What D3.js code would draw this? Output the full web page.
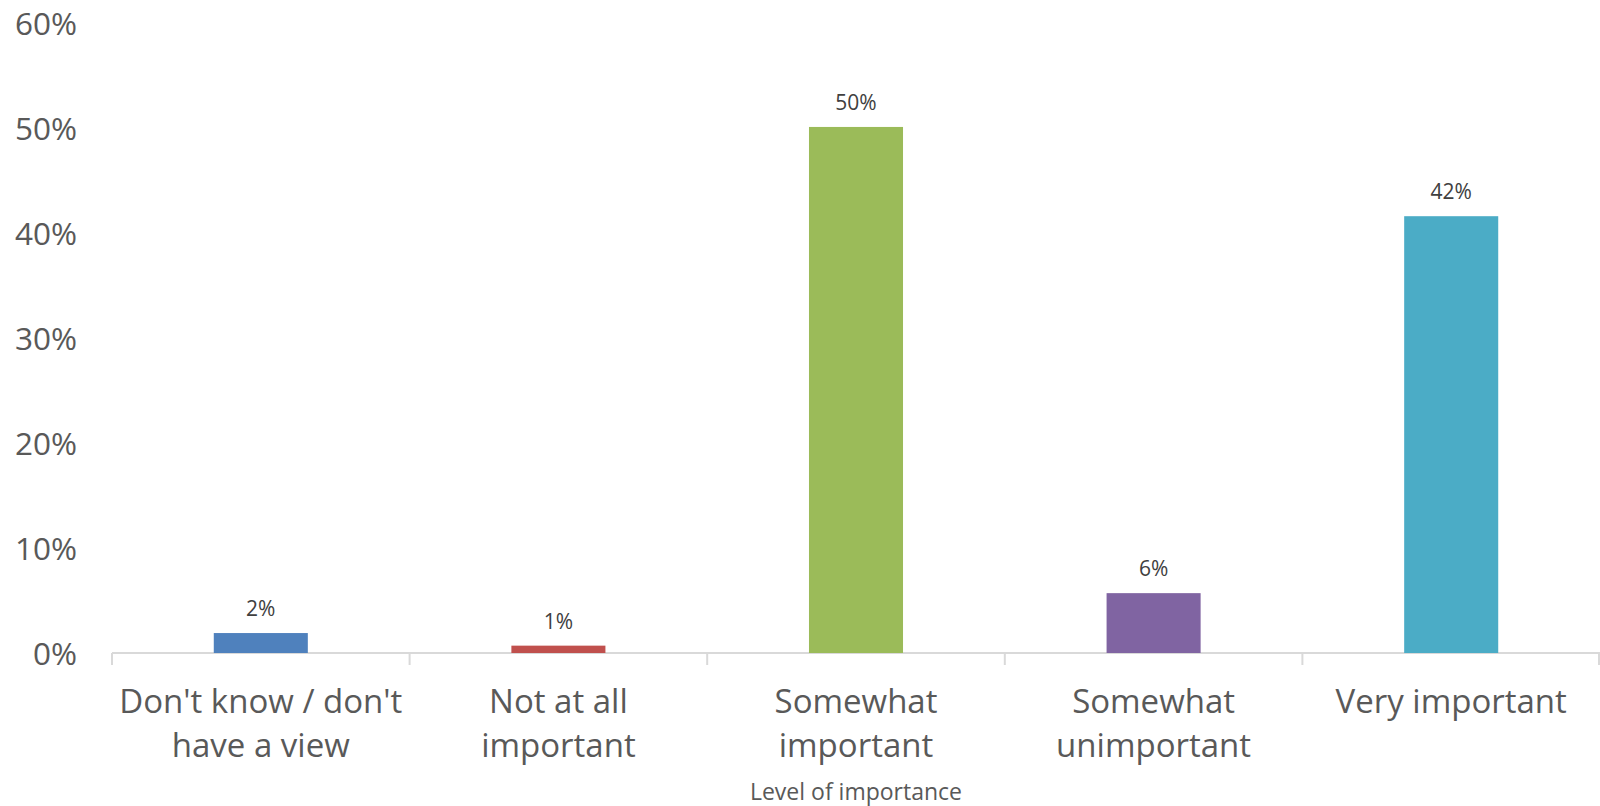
<!DOCTYPE html>
<html>
<head>
<meta charset="utf-8">
<script src="https://cdn.jsdelivr.net/npm/d3@7"></script>
<style>
  body { margin: 0; background: #fff; }
  svg { display: block; }
</style>
</head>
<body>
<svg id="chart"></svg>
<script>
// chart data
var categories = ["Don't know / don't\nhave a view", "Not at all\nimportant", "Somewhat\nimportant", "Somewhat\nunimportant", "Very important"];
var values = [0.019, 0.007, 0.501, 0.057, 0.416];
var valueLabels = ["2%", "1%", "50%", "6%", "42%"];
var colors = ["#4F81BD", "#C0504D", "#9BBB59", "#8064A2", "#4BACC6"];
var yTicks = [0, 0.1, 0.2, 0.3, 0.4, 0.5, 0.6];
var axisTitle = "Level of importance";

var width = 1600, height = 806,
    margin = { top: 23, right: 0, bottom: 153, left: 112 },
    innerW = width - margin.left - margin.right,
    innerH = height - margin.top - margin.bottom,
    font = "'Open Sans', sans-serif";

var svg = d3.select('#chart')
    .attr('width', width)
    .attr('height', height)
    .style('font-family', font);

var g = svg.append('g')
    .attr('transform', 'translate(' + margin.left + ',' + margin.top + ')');

var x = d3.scaleBand()
    .domain(categories)
    .range([0, innerW])
    .paddingInner(0.684)
    .paddingOuter(0.342);

var y = d3.scaleLinear()
    .domain([0, 0.6])
    .range([innerH, 0]);

// y axis - labels only, no line
var yAxis = g.append('g')
    .call(d3.axisLeft(y).tickValues(yTicks).tickFormat(d3.format('.0%')).tickSize(0).tickPadding(35))
    .attr('font-family', font);
yAxis.select('.domain').remove();
yAxis.selectAll('text')
    .style('font-size', '31.5px')
    .style('fill', '#595959')
    .attr('dy', '0.36em');

// x axis line + tick separators between categories
var xAxisG = g.append('g').attr('transform', 'translate(0,' + innerH + ')');
xAxisG.append('line')
    .attr('x1', 0).attr('x2', innerW)
    .attr('stroke', '#D9D9D9').attr('stroke-width', 2);
var step = x.step();
xAxisG.selectAll('line.sep')
    .data(d3.range(categories.length + 1))
    .enter().append('line')
    .attr('class', 'sep')
    .attr('x1', function(i) { return Math.min(i * step, innerW - 1); })
    .attr('x2', function(i) { return Math.min(i * step, innerW - 1); })
    .attr('y1', 0).attr('y2', 12)
    .attr('stroke', '#D9D9D9').attr('stroke-width', 2);

// bars
g.selectAll('rect.bar')
    .data(values)
    .enter().append('rect')
    .attr('class', 'bar')
    .attr('x', function(d, i) { return x(categories[i]); })
    .attr('width', x.bandwidth())
    .attr('y', function(d) { return y(d); })
    .attr('height', function(d) { return innerH - y(d); })
    .attr('fill', function(d, i) { return colors[i]; });

// data labels
g.selectAll('text.val')
    .data(values)
    .enter().append('text')
    .attr('class', 'val')
    .attr('x', function(d, i) { return x(categories[i]) + x.bandwidth() / 2; })
    .attr('y', function(d) { return y(d) - 17; })
    .attr('text-anchor', 'middle')
    .style('font-size', '21px')
    .style('fill', '#404040')
    .text(function(d, i) { return valueLabels[i]; });

// category labels, one tspan per line
xAxisG.selectAll('text.cat')
    .data(categories)
    .enter().append('text')
    .attr('class', 'cat')
    .attr('x', function(d) { return x(d) + x.bandwidth() / 2; })
    .attr('y', 60)
    .attr('text-anchor', 'middle')
    .style('font-size', '33px')
    .style('fill', '#595959')
    .each(function(d) {
        var text = d3.select(this),
            cx = text.attr('x');
        d.split('\n').forEach(function(line, i) {
            text.append('tspan')
                .attr('x', cx)
                .attr('dy', i === 0 ? 0 : 44)
                .text(line);
        });
    });

// axis title
svg.append('text')
    .attr('x', margin.left + innerW / 2)
    .attr('y', 800)
    .attr('text-anchor', 'middle')
    .style('font-size', '23px')
    .style('fill', '#595959')
    .text(axisTitle);
</script>
</body>
</html>
